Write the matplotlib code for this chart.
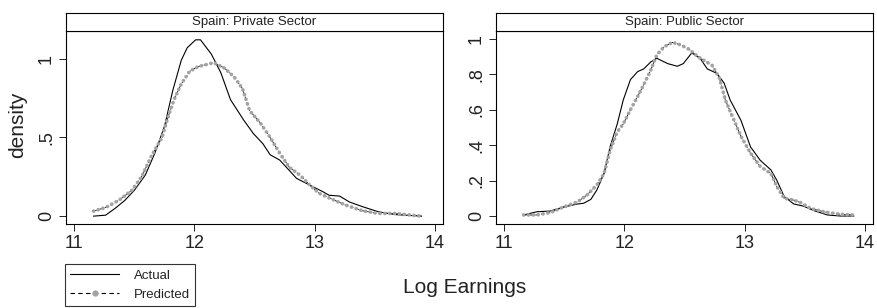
import matplotlib

matplotlib.use("Agg")
import matplotlib.pyplot as plt
from matplotlib.lines import Line2D

# Spain: private sector densities
priv_act_x = [11.16, 11.26, 11.34, 11.42, 11.50, 11.59, 11.67, 11.75, 11.82, 11.89,
              11.94, 12.01, 12.05, 12.14, 12.22, 12.30, 12.41, 12.49, 12.57, 12.63,
              12.71, 12.79, 12.85, 12.96, 13.07, 13.12, 13.21, 13.29, 13.40, 13.53,
              13.67, 13.89]
priv_act_y = [0.0, 0.006, 0.05, 0.10, 0.165, 0.26, 0.40, 0.57, 0.80, 0.99,
              1.07, 1.12, 1.12, 1.03, 0.91, 0.74, 0.61, 0.525, 0.46, 0.39,
              0.356, 0.29, 0.24, 0.197, 0.155, 0.133, 0.127, 0.09, 0.06, 0.028,
              0.01, 0.0]
priv_pred_x = [11.16, 11.26, 11.37, 11.48, 11.56, 11.64, 11.73, 11.78, 11.83, 11.89,
               11.96, 12.03, 12.11, 12.16, 12.25, 12.33, 12.40, 12.46, 12.55, 12.63,
               12.71, 12.79, 12.88, 12.96, 13.04, 13.15, 13.26, 13.40, 13.53, 13.67,
               13.81, 13.89]
priv_pred_y = [0.032, 0.055, 0.10, 0.165, 0.25, 0.38, 0.50, 0.63, 0.74, 0.84,
               0.92, 0.95, 0.965, 0.975, 0.94, 0.885, 0.81, 0.67, 0.59, 0.50,
               0.40, 0.31, 0.26, 0.197, 0.144, 0.106, 0.07, 0.034, 0.017, 0.017,
               0.006, 0.0]

# Spain: public sector densities
pub_act_x = [11.16, 11.27, 11.38, 11.49, 11.61, 11.66, 11.72, 11.77, 11.83, 11.88,
             11.94, 11.99, 12.05, 12.11, 12.16, 12.22, 12.27, 12.36, 12.44, 12.49,
             12.56, 12.63, 12.69, 12.77, 12.83, 12.88, 12.97, 13.05, 13.13, 13.22,
             13.27, 13.33, 13.41, 13.49, 13.58, 13.69, 13.80, 13.91]
pub_act_y = [0.006, 0.024, 0.028, 0.05, 0.068, 0.072, 0.094, 0.147, 0.24, 0.39,
             0.52, 0.655, 0.77, 0.815, 0.83, 0.87, 0.89, 0.86, 0.845, 0.86,
             0.92, 0.89, 0.83, 0.805, 0.75, 0.655, 0.54, 0.39, 0.315, 0.26,
             0.20, 0.11, 0.068, 0.056, 0.03, 0.006, 0.0, 0.0]
pub_pred_x = [11.16, 11.27, 11.38, 11.49, 11.61, 11.69, 11.77, 11.83, 11.88, 11.94,
              11.99, 12.05, 12.11, 12.16, 12.22, 12.27, 12.33, 12.40, 12.47, 12.54,
              12.61, 12.67, 12.73, 12.79, 12.84, 12.90, 12.97, 13.05, 13.13, 13.22,
              13.27, 13.33, 13.41, 13.47, 13.55, 13.66, 13.80, 13.91]
pub_pred_y = [0.006, 0.006, 0.019, 0.05, 0.08, 0.12, 0.175, 0.24, 0.37, 0.475,
              0.52, 0.60, 0.675, 0.74, 0.825, 0.91, 0.955, 0.98, 0.965, 0.94,
              0.90, 0.875, 0.85, 0.78, 0.655, 0.56, 0.45, 0.355, 0.28, 0.24,
              0.165, 0.10, 0.09, 0.075, 0.043, 0.024, 0.01, 0.006]

panels = [
    ("Spain: Private Sector", priv_act_x, priv_act_y, priv_pred_x, priv_pred_y,
     [0, 0.5, 1], ["0", ".5", "1"], (-0.05, 1.176)),
    ("Spain: Public Sector", pub_act_x, pub_act_y, pub_pred_x, pub_pred_y,
     [0, 0.2, 0.4, 0.6, 0.8, 1], ["0", ".2", ".4", ".6", ".8", "1"], (-0.045, 1.044)),
]
x_ticks = [11, 12, 13, 14]
GRAY = "#a3a3a3"

W, H = 877, 308
plt.rcParams["font.family"] = ["Liberation Sans", "DejaVu Sans"]
fig = plt.figure(figsize=(W / 100, H / 100), dpi=100)

lefts = [66, 496]
for (title, ax_, ay_, px_, py_, yt, ytl, ylim), lx in zip(panels, lefts):
    ax = fig.add_axes([lx / W, 1 - 224 / H, 377 / W, 193 / H])
    ax.plot(ax_, ay_, color="black", linewidth=0.8)
    ax.plot(px_, py_, color="black", linewidth=0.6, dashes=(4, 3))
    ax.plot(px_, py_, color=GRAY, linewidth=2.7, linestyle=(0, (0.001, 1.3)),
            dash_capstyle="round", solid_joinstyle="round")
    ax.set_xlim(10.93, 14.07)
    ax.set_ylim(*ylim)
    ax.set_xticks(x_ticks)
    ax.set_xticklabels([str(t) for t in x_ticks], fontsize=13)
    ax.set_yticks(yt)
    ax.set_yticklabels(ytl, fontsize=13, rotation=90, va="center")
    ax.tick_params(direction="out", length=5, width=0.7, pad=3, colors="#222222")
    for s in ax.spines.values():
        s.set_linewidth(0.8)

    strip = fig.add_axes([lx / W, 1 - 31 / H, 377 / W, 18 / H])
    strip.set_xticks([])
    strip.set_yticks([])
    for s in strip.spines.values():
        s.set_linewidth(0.8)
    strip.text(0.5, 0.5, title, ha="center", va="center", fontsize=9.5,
               color="#222222", transform=strip.transAxes)

fig.text(18 / W, 1 - 125 / H, "density", rotation=90, ha="center", va="center",
         fontsize=15, color="#222222")
fig.text(465 / W, 1 - 293 / H, "Log Earnings", ha="center", va="baseline",
         fontsize=15, color="#222222")

handles = [
    Line2D([], [], color="black", linewidth=0.8),
    Line2D([], [], color="black", linewidth=0.8, dashes=(4, 3), marker="o",
           markersize=3.5, markerfacecolor=GRAY, markeredgecolor=GRAY),
]
leg = fig.legend(handles, ["Actual", "Predicted"], loc="upper left",
                 bbox_to_anchor=(65 / W, 1 - 264 / H), fontsize=9.5,
                 frameon=True, fancybox=False, handlelength=3.7, borderpad=0.4,
                 labelspacing=0.55, handletextpad=1.1, numpoints=1, borderaxespad=0)
leg.get_frame().set_edgecolor("black")
leg.get_frame().set_linewidth(0.8)
for t in leg.get_texts():
    t.set_color("#222222")

fig.savefig("out.png", dpi=100)
